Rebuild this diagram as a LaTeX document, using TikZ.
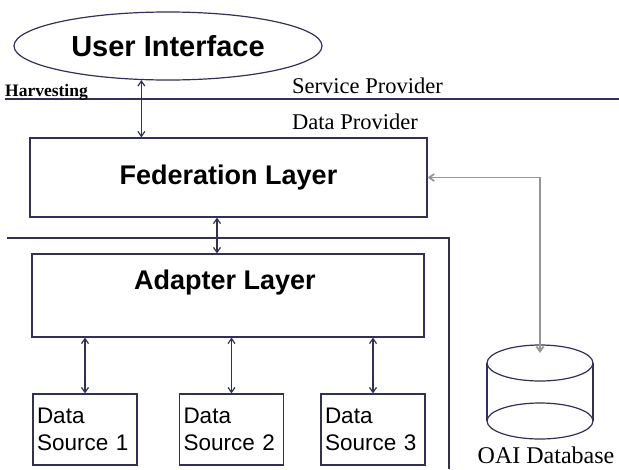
\documentclass[tikz,border=0pt]{standalone}
\usepackage{fontspec}
\setmainfont{Liberation Serif}
\setsansfont{Liberation Sans}
\usetikzlibrary{shapes.geometric}
\usetikzlibrary{arrows.meta,positioning}
\definecolor{ink}{RGB}{48,48,88}
\definecolor{pipe}{RGB}{150,150,150}

\begin{document}
\begin{tikzpicture}[
    x=1pt, y=-1pt,
    ln/.style={draw=ink, line width=1.2pt},
    arr/.style={
        ln,
        {Straight Barb[length=5pt,width=7pt]}-{Straight Barb[length=5pt,width=7pt]},
    },
    oai/.style={arr, draw=pipe, line width=1.8pt},
    ttl/.style={
        font=\sffamily\bfseries\fontsize{27}{31}\selectfont,
        inner sep=0pt,
    },
    lyr/.style={
        ln,
        rectangle,
        ttl,
    },
    src/.style={
        ln,
        rectangle,
        align=left,
        text width=96pt,
        minimum width=104pt,
        minimum height=71pt,
        inner sep=0pt,
        font=\sffamily\fontsize{22.5}{27}\selectfont,
    },
    prv/.style={
        anchor=base west,
        inner sep=0pt,
        font=\fontsize{22.5}{26}\selectfont,
    },
]
    \useasboundingbox (0,0) rectangle (619,469);
    % ~~~ provider split ~~~~~~~~~~~~
    \draw[ln] (5,99) -- (619,99);
    \node[prv, font=\bfseries\fontsize{17.5}{20}\selectfont] (harv) at (5,96) {Harvesting};
    \node[prv] (sp) at (292,93) {Service Provider};
    \node[prv] (dp) at (292,129) {Data Provider};
    % ~~~ layers ~~~~~~~~~~~~
    \node[lyr, ellipse, minimum width=308pt, minimum height=68pt,
          font=\sffamily\bfseries\fontsize{29}{33}\selectfont] (ui) at (168,46) {User Interface};
    \node[lyr, minimum width=397pt, minimum height=79pt] (fed) at (228.5,177.5) {Federation Layer};
    \draw[ln] (7,238) -| (449,469);
    \node[ln, rectangle, minimum width=392pt, minimum height=83pt] (adp) at (228,295.5) {};
    \node[ttl, anchor=base] (adpt) at (225,289) {Adapter Layer};
    \node[src] (ds1) at (85,429.5) {Data\\Source 1};
    \node[src] (ds2) at (231.5,429.5) {Data\\Source 2};
    \node[src] (ds3) at (373,429.5) {Data\\Source 3};
    % ~~~ links ~~~~~~~~~~~~
    \draw[arr] (ui.232) -- (ui.232 |- fed.north);
    \draw[arr] ([xshift=-11.5pt]fed.south) -- ([xshift=-11.5pt]fed.south |- adp.north);
    \foreach \s in {ds1,ds2,ds3}
        \draw[arr] (\s.north |- adp.south) -- (\s.north);
    % ~~~ database ~~~~~~~~~~~~
    \draw[ln] (540,363) ellipse [x radius=53, y radius=18];
    \draw[ln] (540,421) ellipse [x radius=53, y radius=18];
    \draw[ln] (487,363) -- (487,421) (593,363) -- (593,421);
    \coordinate (dbtop) at (540,353);
    \node[prv, anchor=base, font=\fontsize{24}{28}\selectfont] (db) at (546,463) {OAI Database};
    \draw[oai] (fed.east) -| (dbtop);
\end{tikzpicture}
\end{document}
